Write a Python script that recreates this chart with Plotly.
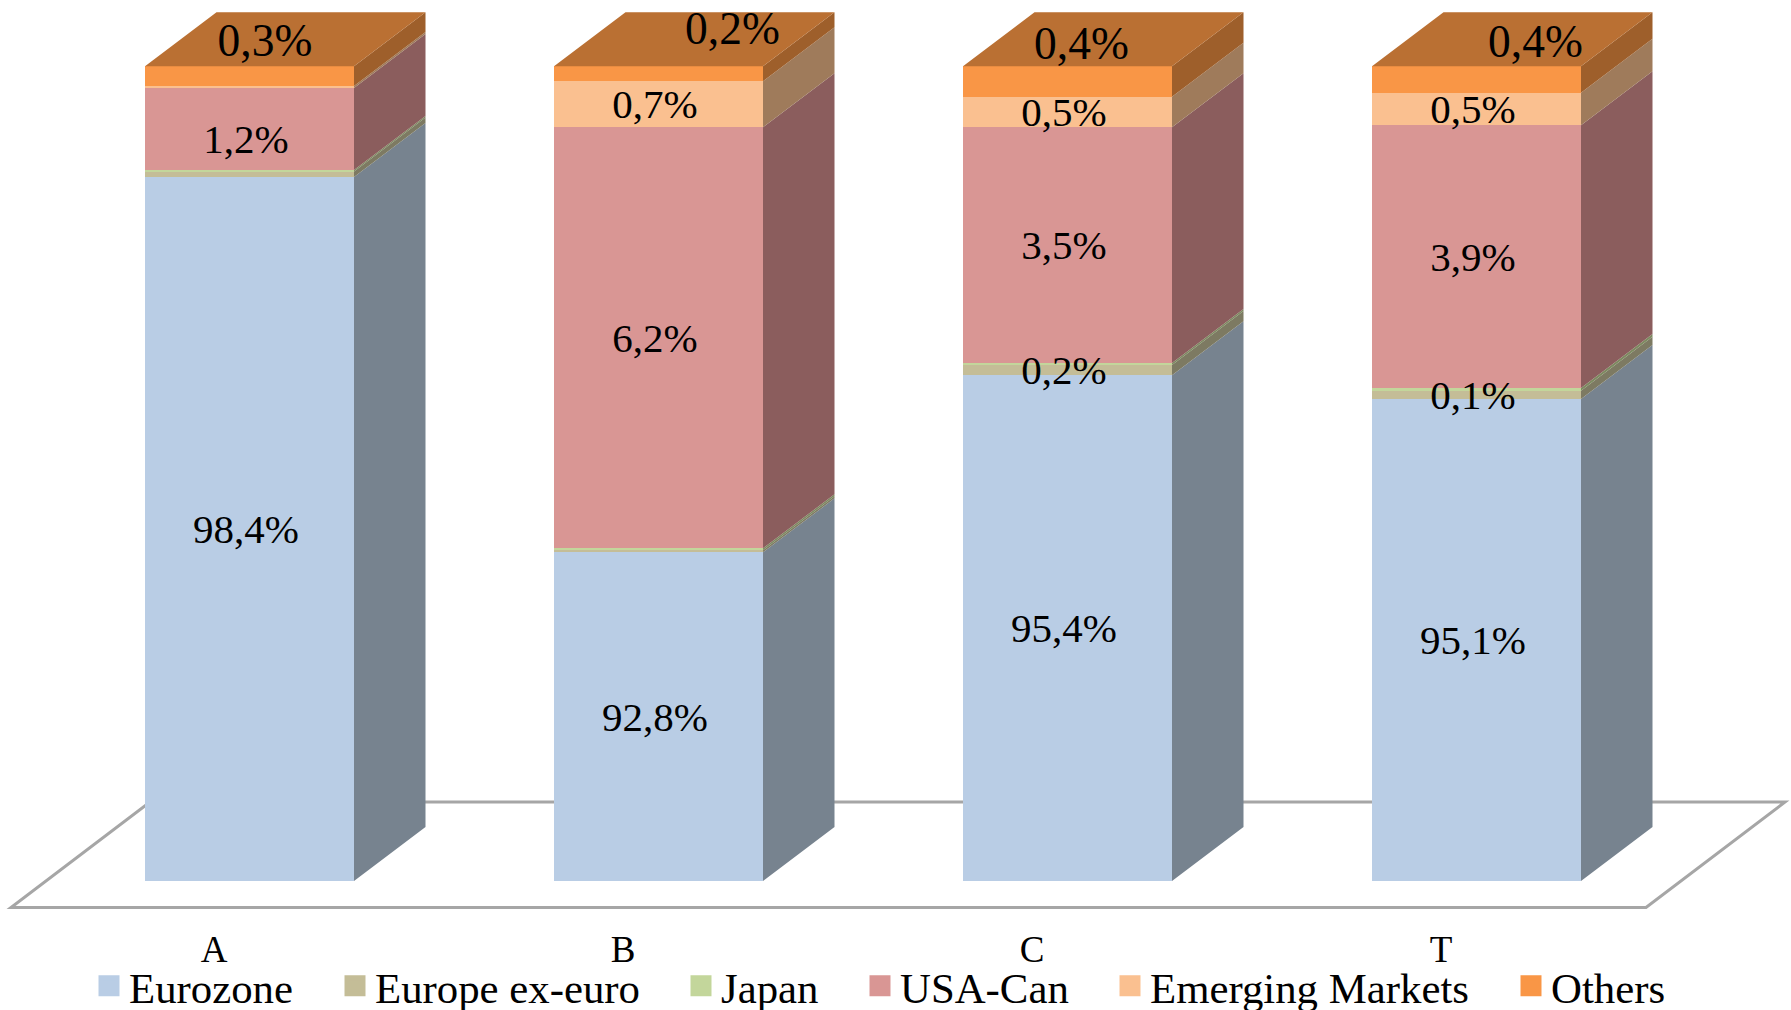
import plotly.graph_objects as go

# ---- data ----
categories = ["A", "B", "C", "T"]
series_names = ["Eurozone", "Europe ex-euro", "Japan", "USA-Can", "Emerging Markets", "Others"]
eurozone = [98.37, 92.84, 95.45, 95.10]
europe_ex_euro = [0.08, 0.03, 0.15, 0.12]
japan = [0.02, 0.03, 0.03, 0.04]
usa_can = [1.21, 6.20, 3.47, 3.87]
emerging = [0.03, 0.68, 0.45, 0.48]
others = [0.29, 0.22, 0.45, 0.39]

labels_eurozone = ["98,4%", "92,8%", "95,4%", "95,1%"]
labels_europe_ex = ["", "", "0,2%", "0,1%"]
labels_japan = ["", "", "", ""]
labels_usa = ["1,2%", "6,2%", "3,5%", "3,9%"]
labels_emerging = ["", "0,7%", "0,5%", "0,5%"]
labels_others = ["0,3%", "0,2%", "0,4%", "0,4%"]

# ---- style ----
front_colors = ["#B9CDE5", "#C4BD97", "#C3D69B", "#D99694", "#FAC090", "#F99646"]
side_colors = ["#77838F", "#7D7A62", "#7D8A60", "#8B5D5D", "#9F7B5B", "#9E5F2B"]
top_color = "#BA7033"
FONT = "Liberation Serif"

W, H = 1791, 1010
PITCH = 409.0      # px between bars
X0 = 249.5         # px centre of first bar
BAR_W = 209 / PITCH
BASE_PX = 881.0    # px of axis floor
PX_PER_UNIT = 67.9
Y_MIN = 88.0
Y_MAX = Y_MIN + BASE_PX / PX_PER_UNIT
DX = 71.5 / PITCH
DY = 54 / PX_PER_UNIT
LABEL_DX = -3.5 / PITCH
LABEL_DY = -3.6 / PX_PER_UNIT
usa_extra_dy = [-10.5 / PX_PER_UNIT, 0, 0, 0]
others_label_dx = [15.5 / PITCH, 74 / PITCH, 14 / PITCH, 59 / PITCH]
others_label_y = [100.32, 100.50, 100.28, 100.31]
legend_centres = [109, 355, 701, 880, 1130, 1531]
legend_y_px = 986

all_series = [eurozone, europe_ex_euro, japan, usa_can, emerging, others]
all_labels = [labels_eurozone, labels_europe_ex, labels_japan, labels_usa, labels_emerging, labels_others]
xs = list(range(len(categories)))

fig = go.Figure()

# stacked front faces
for name, vals, col in zip(series_names, all_series, front_colors):
    fig.add_trace(go.Bar(x=xs, y=vals, name=name, width=BAR_W, showlegend=False,
                         marker=dict(color=col, line=dict(width=0)), hoverinfo="name+y"))

# side faces
cum = [0.0] * len(xs)
seg_bottoms = []
for vals, col in zip(all_series, side_colors):
    px_, py_ = [], []
    bottoms = list(cum)
    seg_bottoms.append(bottoms)
    for i, v in enumerate(vals):
        b = max(cum[i], Y_MIN)
        t = cum[i] + v
        xr = i + BAR_W / 2
        px_ += [xr, xr + DX, xr + DX, xr, xr, None]
        py_ += [b, b + DY, t + DY, t, b, None]
        cum[i] = t
    fig.add_trace(go.Scatter(x=px_, y=py_, mode="lines", fill="toself", fillcolor=col,
                             line=dict(width=0), showlegend=False, hoverinfo="skip"))

# top faces
tx, ty = [], []
for i in xs:
    xl, xr = i - BAR_W / 2, i + BAR_W / 2
    t = cum[i]
    tx += [xl, xr, xr + DX, xl + DX, xl, None]
    ty += [t, t, t + DY, t + DY, t, None]
fig.add_trace(go.Scatter(x=tx, y=ty, mode="lines", fill="toself", fillcolor=top_color,
                         line=dict(width=0), showlegend=False, hoverinfo="skip"))

# data labels
lx, ly, lt, ls = [], [], [], []
for s, (vals, labs) in enumerate(zip(all_series, all_labels)):
    for i, (v, lab) in enumerate(zip(vals, labs)):
        if not lab:
            continue
        if s == len(all_series) - 1:
            lx.append(i + others_label_dx[i]); ly.append(others_label_y[i]); ls.append(45.5)
        else:
            b = max(seg_bottoms[s][i], Y_MIN)
            extra = usa_extra_dy[i] if s == 3 else 0
            lx.append(i + LABEL_DX); ly.append((b + seg_bottoms[s][i] + v) / 2 + LABEL_DY + extra); ls.append(41)
        lt.append(lab)
fig.add_trace(go.Scatter(x=lx, y=ly, text=lt, mode="text", textposition="middle center",
                         textfont=dict(family=FONT, size=ls, color="#000000"),
                         showlegend=False, hoverinfo="skip", cliponaxis=False))

# legend entries, one positioned legend per series
legends = {}
for k, (name, col, cx) in enumerate(zip(series_names, front_colors, legend_centres)):
    key = "legend" if k == 0 else f"legend{k+1}"
    fig.add_trace(go.Scatter(x=[None], y=[None], name=name, mode="markers", legend=key,
                             marker=dict(symbol="square", size=16, color=col,
                                         line=dict(width=5, color=col))))
    legends[key] = dict(x=(cx - 20) / W, y=1 - legend_y_px / H, xanchor="left", yanchor="middle",
                        bgcolor="rgba(0,0,0,0)", borderwidth=0, itemwidth=30,
                        font=dict(family=FONT, size=42.8, color="#000000"))

def fx(p):
    return p / W
def fy(p):
    return 1 - p / H

floor = (f"M{fx(11)},{fy(907.5)} L{fx(1646)},{fy(907.5)} L{fx(1785)},{fy(802)} L{fx(150)},{fy(802)} Z")

fig.update_layout(
    width=W, height=H, barmode="stack", bargap=0,
    margin=dict(l=0, r=0, t=0, b=0, pad=0, autoexpand=False),
    paper_bgcolor="#FFFFFF", plot_bgcolor="rgba(0,0,0,0)",
    font=dict(family=FONT, color="#000000"),
    xaxis=dict(range=[-X0 / PITCH, (W - X0) / PITCH], domain=[0, 1], showgrid=False, zeroline=False,
               showline=False, ticks="", tickmode="array",
               tickvals=[i - 35.5 / PITCH for i in xs], ticktext=categories,
               tickfont=dict(family=FONT, size=37, color="#000000"), ticklabelstandoff=43),
    yaxis=dict(range=[Y_MIN, Y_MAX], domain=[1 - BASE_PX / H, 1], visible=False),
    shapes=[dict(type="path", xref="paper", yref="paper", path=floor, layer="below",
                 fillcolor="#FFFFFF", line=dict(color="#A6A6A6", width=3))],
    **legends,
)

fig.write_html("out.html", config=dict(displayModeBar=False),
               post_script="document.body.style.margin='0';document.body.style.overflow='hidden';")
